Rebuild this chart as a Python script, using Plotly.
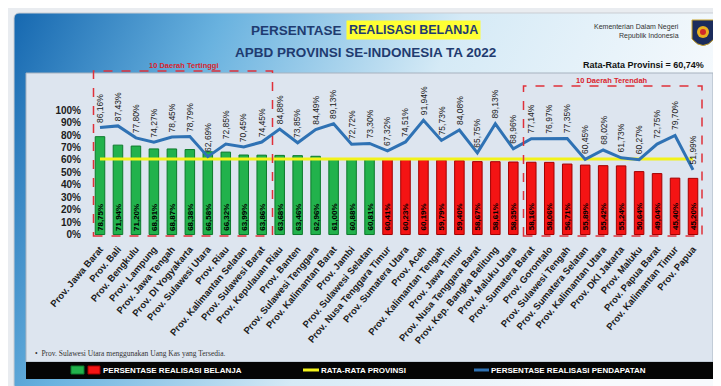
import base64
import plotly.graph_objects as go

provinces = [
    "Prov. Jawa Barat", "Prov. Bali", "Prov. Bengkulu", "Prov. Lampung",
    "Prov. Jawa Tengah", "Prov. DI Yogyakarta", "Prov. Sulawesi Utara", "Prov. Riau",
    "Prov. Kalimantan Selatan", "Prov. Sulawesi Barat", "Prov. Kepulauan Riau", "Prov. Banten",
    "Prov. Sulawesi Tenggara", "Prov. Kalimantan Barat", "Prov. Jambi", "Prov. Sulawesi Selatan",
    "Prov. Nusa Tenggara Timur", "Prov. Sumatera Utara", "Prov. Aceh", "Prov. Kalimantan Tengah",
    "Prov. Jawa Timur", "Prov. Nusa Tenggara Barat", "Prov. Kep. Bangka Belitung", "Prov. Maluku Utara",
    "Prov. Sumatera Barat", "Prov. Gorontalo", "Prov. Sulawesi Tengah", "Prov. Sumatera Selatan",
    "Prov. Kalimantan Utara", "Prov. DKI Jakarta", "Prov. Maluku", "Prov. Papua Barat",
    "Prov. Kalimantan Timur", "Prov. Papua",
]
realisasi_belanja = [
    78.75, 71.94, 71.20, 68.91, 68.87, 68.38, 66.58, 66.32, 63.99, 63.86,
    63.68, 63.46, 62.96, 61.00, 60.88, 60.81, 60.41, 60.23, 60.19, 59.79,
    59.40, 58.67, 58.61, 58.35, 58.16, 58.06, 56.71, 55.89, 55.42, 55.24,
    50.64, 49.04, 45.40, 45.20,
]
realisasi_pendapatan = [
    86.16, 87.43, 77.80, 74.27, 78.45, 78.79, 62.69, 72.85, 70.45, 74.45,
    84.88, 73.85, 84.49, 89.13, 72.72, 73.30, 67.32, 74.51, 91.94, 75.73,
    84.08, 65.75, 89.13, 68.96, 77.14, 76.97, 77.35, 60.45, 68.02, 61.73,
    60.27, 72.75, 79.70, 51.99,
]
rata_rata = 60.74
y_ticks = [0, 10, 20, 30, 40, 50, 60, 70, 80, 90, 100]


def fmt(v):
    return f"{v:.2f}%".replace(".", ",")


W, H = 721, 386
ML, MR, MT, MB = 83, 27, 65, 157
PW = W - ML - MR
PH = H - MT - MB


def px(x):
    return (x - ML) / PW


def py(y):
    return (H - MB - y) / PH


SANS = "Liberation Sans, Arial, sans-serif"
NAVY = "#1f3b70"

bar_colors = ["#22b24c" if v >= rata_rata else "#f41414" for v in realisasi_belanja]
bar_lines = ["#0d7a2c" if v >= rata_rata else "#a30000" for v in realisasi_belanja]

fig = go.Figure()
fig.add_trace(go.Bar(
    x=provinces, y=realisasi_belanja, width=0.53,
    marker=dict(color=bar_colors, line=dict(color=bar_lines, width=1)),
    showlegend=False, hoverinfo="skip",
))
fig.add_trace(go.Scatter(
    x=provinces, y=[rata_rata] * len(provinces), mode="lines",
    line=dict(color="#f2f21a", width=3), showlegend=False, hoverinfo="skip",
))
fig.add_trace(go.Scatter(
    x=provinces, y=realisasi_pendapatan, mode="lines",
    line=dict(color="#2f72b4", width=3), showlegend=False, hoverinfo="skip",
))

annotations = []
for p, v in zip(provinces, realisasi_belanja):
    annotations.append(dict(
        x=p, y=0, xref="x", yref="y", text=fmt(v), showarrow=False,
        textangle=-90, yanchor="bottom", xanchor="center", yshift=2,
        font=dict(family=SANS, size=8, color="#000000", weight="bold"),
    ))
for p, v in zip(provinces, realisasi_pendapatan):
    annotations.append(dict(
        x=p, y=v, xref="x", yref="y", text=fmt(v), showarrow=False,
        textangle=-90, yanchor="bottom", xanchor="center", yshift=3,
        font=dict(family=SANS, size=8.5, color="#222222"),
    ))


def ann(x, y, text, size, color, anchor="center", weight="bold", family=SANS, **kw):
    annotations.append(dict(
        x=px(x), y=py(y), xref="paper", yref="paper", text=text, showarrow=False,
        xanchor=anchor, yanchor="middle",
        font=dict(family=family, size=size, color=color, weight=weight), **kw,
    ))


ann(336, 22, "PERSENTASE", 13.5, NAVY, anchor="right")
ann(338, 22, "REALISASI BELANJA", 12.5, NAVY, anchor="left", bgcolor="#ffff33", borderpad=2)
ann(357, 45, "APBD PROVINSI SE-INDONESIA TA 2022", 13.5, NAVY)
ann(673, 19, "Kementerian Dalam Negeri", 7, "#333333", anchor="right", weight="normal")
ann(673, 28, "Republik Indonesia", 7, "#333333", anchor="right", weight="normal")
ann(698, 57, f"Rata-Rata Provinsi = {fmt(rata_rata)}", 9, "#111111", anchor="right")
ann(175, 58, "10 Daerah Tertinggi", 7.5, "#d9232d")
ann(604, 72, "10 Daerah Terendah", 7.5, "#d9232d")
ann(25, 345, "•&nbsp;&nbsp;Prov. Sulawesi Utara menggunakan Uang Kas yang Tersedia.", 7.5,
    "#333333", anchor="left", weight="normal", family="Liberation Serif, DejaVu Serif, serif")
ann(93, 362, "PERSENTASE REALISASI BELANJA", 8, "#ffffff", anchor="left")
ann(311, 362, "RATA-RATA PROVINSI", 8, "#ffffff", anchor="left")
ann(481, 362, "PERSENTASE REALISASI PENDAPATAN", 8, "#ffffff", anchor="left")


def rect(x0, y0, x1, y1, **kw):
    return dict(type="rect", xref="paper", yref="paper",
                x0=px(x0), x1=px(x1), y0=py(y1), y1=py(y0), **kw)


shapes = [
    rect(18, 65, 705, 354, fillcolor="#dde5ef", line=dict(color="#a7b2bf", width=1), layer="below"),
    rect(18, 354, 705, 371, fillcolor="#050505", line=dict(width=0), layer="below"),
    rect(85.5, 63, 264.5, 228, fillcolor="rgba(0,0,0,0)",
         line=dict(color="#e0303a", width=1.5, dash="dash"), layer="above"),
    rect(515.5, 78, 694, 228, fillcolor="rgba(0,0,0,0)",
         line=dict(color="#e0303a", width=1.5, dash="dash"), layer="above"),
    rect(63, 358, 76, 366, fillcolor="#22b24c", line=dict(color="#0d7a2c", width=1)),
    rect(80, 358, 92, 366, fillcolor="#f41414", line=dict(color="#a30000", width=1)),
    dict(type="line", xref="paper", yref="paper", x0=px(295), x1=px(311), y0=py(362), y1=py(362),
         line=dict(color="#f2f21a", width=3)),
    dict(type="line", xref="paper", yref="paper", x0=px(466), x1=px(481), y0=py(362), y1=py(362),
         line=dict(color="#2f72b4", width=3)),
    # emblem
    dict(type="path", xref="paper", yref="paper",
         path=(f"M {px(684)} {py(12)} L {px(706)} {py(12)} L {px(706)} {py(31)} "
               f"Q {px(695)} {py(44)} {px(684)} {py(31)} Z"),
         fillcolor="#1b2c5c", line=dict(color="#c9a227", width=1)),
    dict(type="circle", xref="paper", yref="paper", x0=px(689), x1=px(701), y0=py(30), y1=py(18),
         fillcolor="#e8b020", line=dict(width=0)),
    dict(type="circle", xref="paper", yref="paper", x0=px(692), x1=px(698), y0=py(27), y1=py(21),
         fillcolor="#d12a2a", line=dict(width=0)),
]

svg = (
    '<svg xmlns="http://www.w3.org/2000/svg" width="721" height="386">'
    '<defs><linearGradient id="g" x1="0" y1="0" x2="1" y2="0.25">'
    '<stop offset="0" stop-color="#1668b0"/><stop offset="0.28" stop-color="#69b2df"/>'
    '<stop offset="0.6" stop-color="#d5eaf6"/><stop offset="1" stop-color="#f7fafd"/>'
    '</linearGradient></defs>'
    '<rect width="721" height="386" fill="#e9ecf0"/>'
    '<rect x="6" y="5" width="707" height="377" rx="5" fill="url(#g)" stroke="#c9cdd3"/>'
    '</svg>'
)
src = "data:image/svg+xml;base64," + base64.b64encode(svg.encode()).decode()

fig.update_layout(
    width=W, height=H,
    margin=dict(l=ML, r=MR, t=MT, b=MB),
    paper_bgcolor="#ffffff", plot_bgcolor="rgba(0,0,0,0)",
    bargap=0.47,
    xaxis=dict(
        tickangle=-50, showgrid=False, showline=False, zeroline=False,
        ticks="outside", ticklen=2, tickcolor="rgba(0,0,0,0)",
        tickfont=dict(family=SANS, size=9.5, color="#1c1c1c", weight="bold"),
        range=[-0.5, len(provinces) - 0.5], fixedrange=True,
    ),
    yaxis=dict(
        range=[-2, 130], tickvals=y_ticks, ticktext=[f"{v}%" for v in y_ticks],
        showgrid=False, showline=False, zeroline=False,
        ticks="outside", ticklen=7, tickcolor="rgba(0,0,0,0)",
        tickfont=dict(family=SANS, size=10, color="#1c1c1c", weight="bold"),
    ),
    annotations=annotations,
    shapes=shapes,
    images=[dict(source=src, xref="paper", yref="paper", x=px(0), y=py(0),
                 sizex=W / PW, sizey=H / PH, xanchor="left", yanchor="top",
                 sizing="stretch", layer="below")],
    showlegend=False,
)

fig.write_html("out.html")
